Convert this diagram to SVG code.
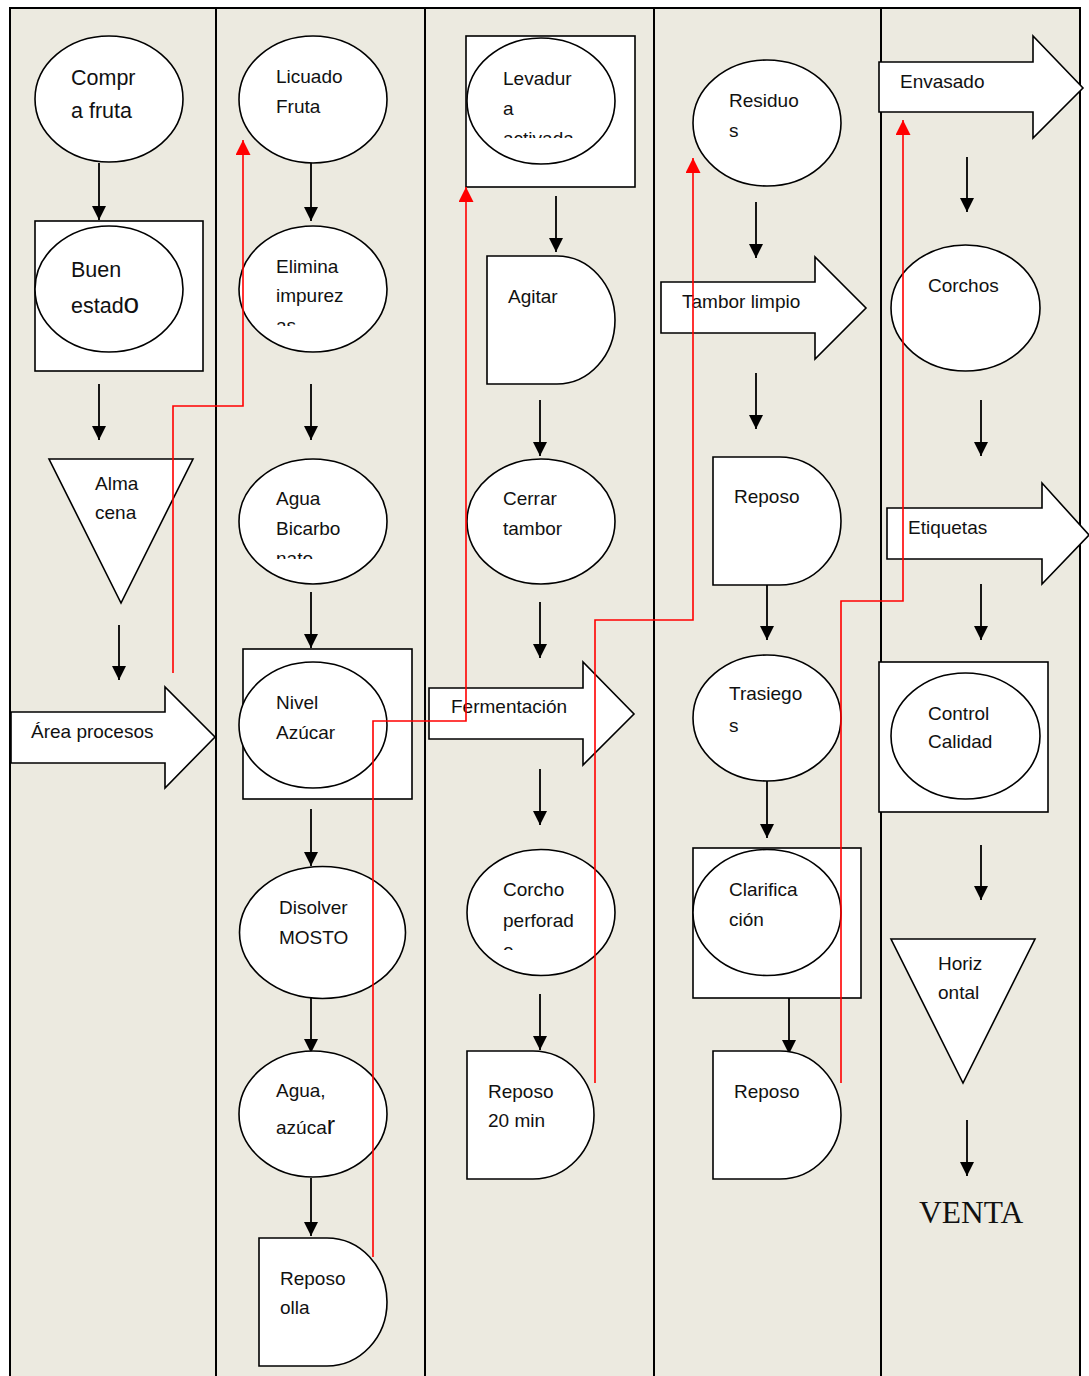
<svg xmlns="http://www.w3.org/2000/svg" width="1089" height="1376" viewBox="0 0 1089 1376">
<style>
.lane{stroke:#000;stroke-width:2;fill:none}
.sh{fill:#fff;stroke:#000;stroke-width:1.6}
.t{font-family:"Liberation Sans",Arial,sans-serif;font-size:19px;fill:#111}
.tb{font-family:"Liberation Sans",Arial,sans-serif;font-size:21.5px;fill:#111}
.ar{stroke:#000;stroke-width:1.8;fill:none;marker-end:url(#ah)}
.red{stroke:#f00;stroke-width:1.6;fill:none;marker-end:url(#rh)}
</style>
<defs>
<marker id="ah" viewBox="0 0 10 10" refX="10" refY="5" markerWidth="15" markerHeight="14" markerUnits="userSpaceOnUse" orient="auto"><path d="M0,0 L10,5 L0,10 Z" fill="#000"/></marker>
<marker id="rh" viewBox="0 0 10 10" refX="10" refY="5" markerWidth="15" markerHeight="15" markerUnits="userSpaceOnUse" orient="auto"><path d="M0,0 L10,5 L0,10 Z" fill="#f00"/></marker>
<clipPath id="c1"><rect x="260" y="250" width="130" height="76"/></clipPath>
<clipPath id="c2"><rect x="490" y="50" width="130" height="88"/></clipPath>
<clipPath id="c3"><rect x="260" y="470" width="130" height="89"/></clipPath>
<clipPath id="c4"><rect x="490" y="860" width="130" height="90"/></clipPath>
</defs>
<rect x="0" y="0" width="1089" height="1376" fill="#fff"/>
<rect x="10" y="8" width="1070" height="1368" fill="#ECEAE0"/>
<g id="lanes">
<line class="lane" x1="9" y1="8" x2="1081" y2="8"/>
<line class="lane" x1="10" y1="8" x2="10" y2="1376"/>
<line class="lane" x1="216" y1="8" x2="216" y2="1376"/>
<line class="lane" x1="425" y1="8" x2="425" y2="1376"/>
<line class="lane" x1="654" y1="8" x2="654" y2="1376"/>
<line class="lane" x1="881" y1="8" x2="881" y2="1376"/>
<line class="lane" x1="1080" y1="8" x2="1080" y2="1376"/>
</g>
<g id="connectors">
<line class="ar" x1="99" y1="163" x2="99" y2="220"/>
<line class="ar" x1="99" y1="384" x2="99" y2="440"/>
<line class="ar" x1="119" y1="625" x2="119" y2="680"/>
<line class="ar" x1="311" y1="163" x2="311" y2="221"/>
<line class="ar" x1="311" y1="384" x2="311" y2="440"/>
<line class="ar" x1="311" y1="592" x2="311" y2="648"/>
<line class="ar" x1="311" y1="809" x2="311" y2="866"/>
<line class="ar" x1="311" y1="998" x2="311" y2="1053"/>
<line class="ar" x1="311" y1="1178" x2="311" y2="1236"/>
<line class="ar" x1="556" y1="196" x2="556" y2="252"/>
<line class="ar" x1="540" y1="400" x2="540" y2="456"/>
<line class="ar" x1="540" y1="602" x2="540" y2="658"/>
<line class="ar" x1="540" y1="769" x2="540" y2="825"/>
<line class="ar" x1="540" y1="994" x2="540" y2="1050"/>
<line class="ar" x1="756" y1="202" x2="756" y2="258"/>
<line class="ar" x1="756" y1="373" x2="756" y2="429"/>
<line class="ar" x1="767" y1="585" x2="767" y2="640"/>
<line class="ar" x1="767" y1="781" x2="767" y2="838"/>
<line class="ar" x1="789" y1="998" x2="789" y2="1054"/>
<line class="ar" x1="967" y1="157" x2="967" y2="212"/>
<line class="ar" x1="981" y1="400" x2="981" y2="456"/>
<line class="ar" x1="981" y1="584" x2="981" y2="640"/>
<line class="ar" x1="981" y1="845" x2="981" y2="900"/>
<line class="ar" x1="967" y1="1120" x2="967" y2="1176"/>
</g>
<g id="n-compra"><ellipse class="sh" cx="109" cy="99" rx="74" ry="63"/><text class="tb" x="71" y="85">Compr</text><text class="tb" x="71" y="118">a fruta</text></g>
<g id="n-buen"><rect class="sh" x="35" y="221" width="168" height="150"/><ellipse class="sh" cx="109" cy="289" rx="74" ry="63"/><text class="tb" x="71" y="277">Buen</text><text class="tb" x="71" y="313">estad<tspan font-size="28">o</tspan></text></g>
<g id="n-almacena"><polygon class="sh" points="49,459 193,459 121,603"/><text class="t" x="95" y="490">Alma</text><text class="t" x="95" y="519">cena</text></g>
<g id="n-area"><path class="sh" d="M11,712 H165 V687 L215,737 L165,788 V763 H11 Z"/><text class="t" x="31" y="738">Área procesos</text></g>
<g id="n-licuado"><ellipse class="sh" cx="313" cy="99.5" rx="74" ry="63.5"/><text class="t" x="276" y="83">Licuado</text><text class="t" x="276" y="113">Fruta</text></g>
<g id="n-elimina"><ellipse class="sh" cx="313" cy="289" rx="74" ry="63"/><text class="t" x="276" y="273">Elimina</text><text class="t" x="276" y="302">impurez</text><text class="t" x="276" y="332" clip-path="url(#c1)">as</text></g>
<g id="n-agua"><ellipse class="sh" cx="313" cy="521.5" rx="74" ry="62.5"/><text class="t" x="276" y="505">Agua</text><text class="t" x="276" y="535">Bicarbo</text><text class="t" x="276" y="565" clip-path="url(#c3)">nato</text></g>
<g id="n-nivel"><rect class="sh" x="243" y="649" width="169" height="150"/><ellipse class="sh" cx="313" cy="725" rx="74" ry="63"/><text class="t" x="276" y="709">Nivel</text><text class="t" x="276" y="739">Azúcar</text></g>
<g id="n-disolver"><ellipse class="sh" cx="322.5" cy="932.5" rx="83" ry="66"/><text class="t" x="279" y="914">Disolver</text><text class="t" x="279" y="944">MOSTO</text></g>
<g id="n-aguaazucar"><ellipse class="sh" cx="313" cy="1114" rx="74" ry="63"/><text class="t" x="276" y="1097">Agua,</text><text class="t" x="276" y="1134">azúca<tspan font-size="25">r</tspan></text></g>
<g id="n-reposoolla"><path class="sh" d="M259,1238 H327 A60,64 0 0 1 327,1366 H259 Z"/><text class="t" x="280" y="1285">Reposo</text><text class="t" x="280" y="1314">olla</text></g>
<g id="n-levadura"><rect class="sh" x="466" y="36" width="169" height="151"/><ellipse class="sh" cx="541" cy="101" rx="74" ry="63"/><text class="t" x="503" y="85">Levadur</text><text class="t" x="503" y="115">a</text><text class="t" x="503" y="145" clip-path="url(#c2)">activada</text></g>
<g id="n-agitar"><path class="sh" d="M487,256 H557 A58,64 0 0 1 557,384 H487 Z"/><text class="t" x="508" y="303">Agitar</text></g>
<g id="n-cerrar"><ellipse class="sh" cx="541" cy="521.5" rx="74" ry="62.5"/><text class="t" x="503" y="505">Cerrar</text><text class="t" x="503" y="535">tambor</text></g>
<g id="n-fermentacion"><path class="sh" d="M429,688 H583 V662 L634,714 L583,765 V739 H429 Z"/><text class="t" x="451" y="713">Fermentación</text></g>
<g id="n-corcho"><ellipse class="sh" cx="541" cy="912.5" rx="74" ry="63"/><text class="t" x="503" y="896">Corcho</text><text class="t" x="503" y="927">perforad</text><text class="t" x="503" y="957" clip-path="url(#c4)">o</text></g>
<g id="n-reposo20"><path class="sh" d="M467,1051 H533 A61,64 0 0 1 533,1179 H467 Z"/><text class="t" x="488" y="1098">Reposo</text><text class="t" x="488" y="1127">20 min</text></g>
<g id="n-residuos"><ellipse class="sh" cx="767" cy="123" rx="74" ry="63"/><text class="t" x="729" y="107">Residuo</text><text class="t" x="729" y="137">s</text></g>
<g id="n-tambor"><path class="sh" d="M661,282 H815 V257 L866,308 L815,359 V333 H661 Z"/><text class="t" x="682" y="308">Tambor limpio</text></g>
<g id="n-reposo1"><path class="sh" d="M713,457 H780 A61,64 0 0 1 780,585 H713 Z"/><text class="t" x="734" y="503">Reposo</text></g>
<g id="n-trasiegos"><ellipse class="sh" cx="767" cy="718" rx="74" ry="63"/><text class="t" x="729" y="700">Trasiego</text><text class="t" x="729" y="732">s</text></g>
<g id="n-clarificacion"><rect class="sh" x="693" y="848" width="168" height="150"/><ellipse class="sh" cx="767" cy="912.5" rx="74" ry="63"/><text class="t" x="729" y="896">Clarifica</text><text class="t" x="729" y="926">ción</text></g>
<g id="n-reposo2"><path class="sh" d="M713,1051 H780 A61,64 0 0 1 780,1179 H713 Z"/><text class="t" x="734" y="1098">Reposo</text></g>
<g id="n-envasado"><path class="sh" d="M879,62 H1033 V36 L1083,88 L1033,138 V112 H879 Z"/><text class="t" x="900" y="88">Envasado</text></g>
<g id="n-corchos"><ellipse class="sh" cx="965.5" cy="308" rx="74.5" ry="63"/><text class="t" x="928" y="292">Corchos</text></g>
<g id="n-etiquetas"><path class="sh" d="M887,508 H1042 V483 L1089,535 L1042,584 V559 H887 Z"/><text class="t" x="908" y="534">Etiquetas</text></g>
<g id="n-control"><rect class="sh" x="879" y="662" width="169" height="150"/><ellipse class="sh" cx="965.5" cy="736" rx="74.5" ry="63"/><text class="t" x="928" y="720">Control</text><text class="t" x="928" y="748">Calidad</text></g>
<g id="n-horizontal"><polygon class="sh" points="891,939 1035,939 963,1083"/><text class="t" x="938" y="970">Horiz</text><text class="t" x="938" y="999">ontal</text></g>
<g id="n-venta"><text x="919" y="1223" font-family="'Liberation Serif','Times New Roman',serif" font-size="31.5" fill="#111">VENTA</text></g>
<g id="red-connectors">
<polyline class="red" points="173,673 173,406 243,406 243,140"/>
<polyline class="red" points="373,1257 373,721 466,721 466,187"/>
<polyline class="red" points="595,1083 595,620 693,620 693,158"/>
<polyline class="red" points="841,1083 841,601 903,601 903,120"/>
</g>
</svg>
